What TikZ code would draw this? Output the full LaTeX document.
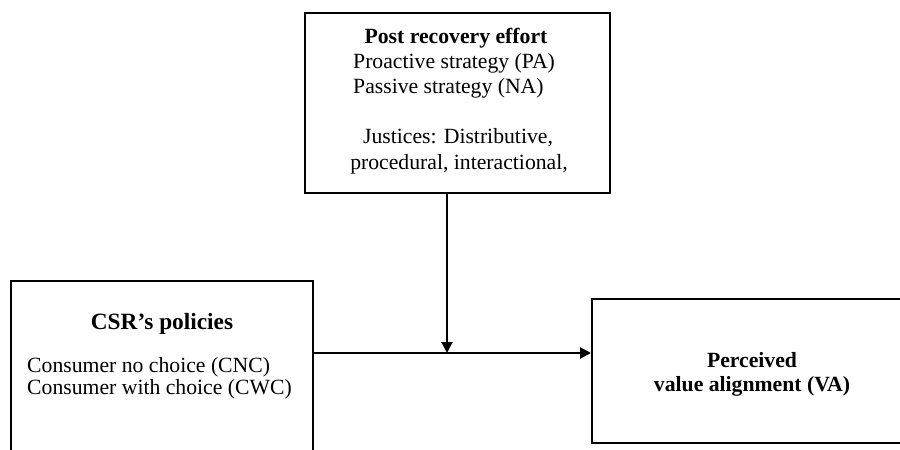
\documentclass[tikz,border=0pt]{standalone}
\usepackage{fontspec}
\setmainfont{Liberation Serif}
\usetikzlibrary{arrows.meta,positioning}
\tikzset{pin/.style={line width=2pt, -{Triangle[length=11pt, width=11pt]}},
  blk/.style={draw, line width=2pt},
  txt/.style={inner sep=0pt, font=\fontsize{21.7}{25}\selectfont},
  hd/.style={txt, font=\fontsize{21.7}{25}\selectfont\bfseries}}

\begin{document}
\begin{tikzpicture}[x=1pt, y=-1pt]
  \useasboundingbox (0,0) rectangle (900,450);
  \clip (0,0) rectangle (900,450);
  \node[blk, minimum width=305pt, minimum height=180pt] (post) at (457.5,103) {};
  \node[blk, minimum width=302pt, minimum height=190pt] (csr) at (162,376) {};
  \node[blk, minimum width=320pt, minimum height=144pt] (va) at (752,371) {};
  % recovery effort box
  \node[hd, anchor=base] (posthead) at (456,43) {Post recovery effort};
  \node[txt, anchor=base west] (pa) at (353,68) {Proactive strategy (PA)};
  \node[txt, anchor=base west] (na) at (353,93) {Passive strategy (NA)};
  \node[txt, anchor=base] (just) at (458,143) {Justices: Distributive,};
  \node[txt, anchor=base] (kinds) at (459,169) {procedural, interactional,};
  % policies box
  \node[hd, anchor=base, font=\fontsize{23.3}{26}\selectfont\bfseries] (csrhead) at (162,329) {CSR’s policies};
  \node[txt, anchor=base west] (cnc) at (27,372) {Consumer no choice (CNC)};
  \node[txt, anchor=base west] (cwc) at (27,394) {Consumer with choice (CWC)};
  % outcome box
  \node[hd, anchor=base] (vahead) at (752,367) {Perceived};
  \node[hd, anchor=base] (vaname) at (752,391) {value alignment (VA)};
  % links
  \coordinate (join) at (447,353);
  \draw[pin] (csr.east |- join) -- (join -| va.west);
  \draw[pin] (post.south -| join) -- (join);
\end{tikzpicture}
\end{document}
